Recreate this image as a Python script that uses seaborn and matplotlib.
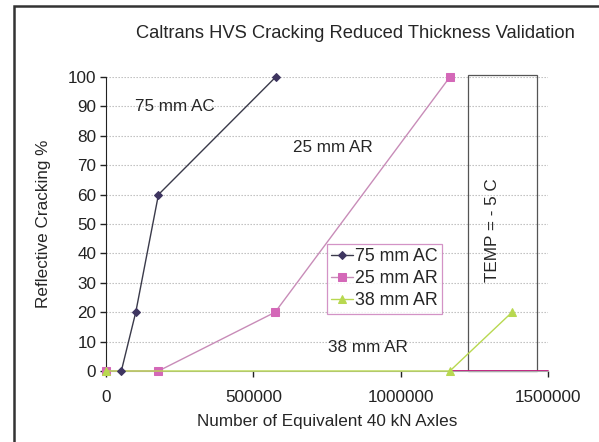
import seaborn as sns
import matplotlib.pyplot as plt
from matplotlib.patches import Rectangle

# data
ac75_x = [52000, 101000, 178000, 576000]
ac75_y = [0, 20, 60, 100]
ar25_x = [0, 178000, 574000, 1167000]
ar25_y = [0, 0, 20, 100]
ar38_x = [0, 1167000, 1378000]
ar38_y = [0, 0, 20]
y_ticks = list(range(0, 101, 10))
x_ticks = [0, 500000, 1000000, 1500000]

sns.set_style("white")
plt.rcParams["font.family"] = ["Liberation Sans", "DejaVu Sans"]
FS = 12.3

fig = plt.figure(figsize=(5.99, 4.42), dpi=100)
ax = fig.add_axes([106 / 599, 1 - 371 / 442, 442 / 599, 294 / 442])

# dotted horizontal grid
for yv in y_ticks[1:]:
    ax.axhline(yv, color="#b8b8b8", lw=0.8, ls=(0, (1.2, 1.5)), zorder=0)

sns.lineplot(x=ac75_x, y=ac75_y, ax=ax, color="#3a3a4a", lw=1.0, marker="D",
             markersize=4.5, markerfacecolor="#3e3560", markeredgecolor="#3e3560",
             label="75 mm AC", clip_on=False, zorder=4)
sns.lineplot(x=ar25_x, y=ar25_y, ax=ax, color="#c88cb8", lw=1.0, marker="s",
             markersize=5.5, markerfacecolor="#d468b8", markeredgecolor="#d468b8",
             label="25 mm AR", clip_on=False, zorder=3, sort=False)
sns.lineplot(x=ar38_x, y=ar38_y, ax=ax, color="#b8d850", lw=1.0, marker="^",
             markersize=6, markerfacecolor="#b8d850", markeredgecolor="#b8d850",
             label="38 mm AR", clip_on=False, zorder=3, sort=False)

# magenta segment along the axis to the right
ax.plot([ar25_x[-1], x_ticks[-1]], [0, 0], color="#c0107a", lw=1.3, clip_on=False, zorder=2)

# temperature box
ax.add_patch(Rectangle((1227000, 0), 236000, 100.8, fill=False, ec="#555555",
                       lw=0.9, clip_on=False, zorder=1))
ax.text(1313000, 48, "TEMP = - 5 C", rotation=90, ha="center", va="center", fontsize=FS)

ax.text(98000, 90, "75 mm AC", fontsize=FS, va="center")
ax.text(635000, 76, "25 mm AR", fontsize=FS, va="center")
ax.text(755000, 8, "38 mm AR", fontsize=FS, va="center")

ax.set_xlim(0, 1500000)
ax.set_ylim(0, 100)
ax.set_xticks(x_ticks)
ax.set_xticklabels([str(v) for v in x_ticks])
ax.set_yticks(y_ticks)
ax.tick_params(axis="both", labelsize=FS, length=4, width=1, direction="out",
               colors="#222222", bottom=True, left=True)
ax.tick_params(axis="x", pad=10)
ax.tick_params(axis="y", pad=3)
for s in ["top", "right"]:
    ax.spines[s].set_visible(False)
ax.spines["left"].set_color("#222222")
ax.spines["bottom"].set_color("#a8a8a8")
ax.spines["bottom"].set_linestyle((0, (2, 1)))

ax.set_xlabel("Number of Equivalent 40 kN Axles", fontsize=FS, labelpad=6)
ax.set_ylabel("Reflective Cracking %", fontsize=FS, labelpad=12)

leg = ax.legend(loc="upper left", bbox_to_anchor=(0.5, 0.432), fontsize=12.8,
                frameon=True, fancybox=False, handlelength=1.2, handletextpad=0.1,
                borderpad=0.25, labelspacing=0.28, borderaxespad=0)
leg.get_frame().set_edgecolor("#c878b8")
leg.get_frame().set_linewidth(0.9)

fig.text(355 / 599, 1 - 33 / 442, "Caltrans HVS Cracking Reduced Thickness Validation",
         ha="center", va="center", fontsize=13.2)

# outer chart frame
fig.add_artist(Rectangle((14 / 599, -0.05), 0.99, 1 - 6 / 442 + 0.05, transform=fig.transFigure,
                         fill=False, ec="#333333", lw=1.8, clip_on=False))

fig.savefig("out.png", dpi=100)
